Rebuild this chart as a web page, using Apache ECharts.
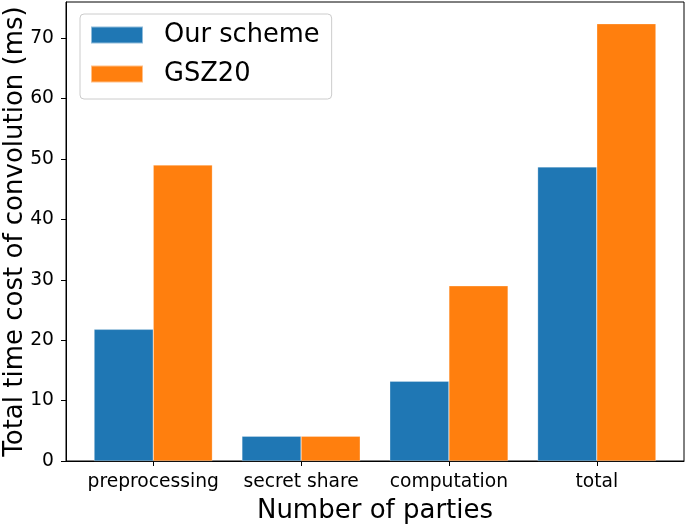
<!DOCTYPE html>
<html>
<head>
<meta charset="utf-8">
<script src="https://cdn.jsdelivr.net/npm/echarts@6/dist/echarts.min.js"></script>
<style>html,body{margin:0;padding:0;background:#fff}#c{width:685px;height:524px}</style>
</head>
<body>
<div id="c"></div>
<script>
const categories = ['preprocessing', 'secret share', 'computation', 'total'];
const ourScheme = [21.8, 4.1, 13.2, 48.7];
const gsz20 = [49.0, 4.1, 29.0, 72.4];
const yTicks = [0, 10, 20, 30, 40, 50, 60, 70];
const xPositions = [0, 1, 2, 3];

const font = 'DejaVu Sans';
const chart = echarts.init(document.getElementById('c'), null, {renderer: 'canvas'});
chart.setOption({
  animation: false,
  backgroundColor: '#fff',
  grid: {left: 66, right: 1, top: 2, bottom: 63, outerBoundsMode: 'none', containLabel: false,
    show: true, borderColor: '#000', borderWidth: 1, backgroundColor: 'transparent'},
  legend: {
    left: 80, top: 14, orient: 'vertical',
    itemWidth: 52, itemHeight: 17, itemGap: 13,
    padding: [8, 12, 12, 10],
    borderColor: '#cccccc', borderWidth: 1, borderRadius: 4,
    backgroundColor: 'rgba(255,255,255,0.8)',
    icon: 'rect',
    textStyle: {fontFamily: font, fontSize: 25.7, color: '#000', padding: [0, 0, 0, 16]},
    data: ['Our scheme', 'GSZ20']
  },
  xAxis: {
    type: 'value', min: -0.59, max: 3.59,
    name: 'Number of parties', nameLocation: 'middle', nameGap: 37, nameMoveOverlap: false,
    nameTextStyle: {fontFamily: font, fontSize: 26, color: '#000'},
    splitLine: {show: false},
    axisLine: {show: true, onZero: false, lineStyle: {color: '#000', width: 1}},
    axisTick: {show: true, length: 5, lineStyle: {color: '#000'}, customValues: xPositions},
    axisLabel: {fontFamily: font, fontSize: 18.7, color: '#000', margin: 12, customValues: xPositions,
      formatter: v => categories[Math.round(v)]}
  },
  yAxis: {
    type: 'value', min: 0, max: 76.0,
    name: 'Total time cost of convolution (ms)', nameLocation: 'middle', nameGap: 38, nameMoveOverlap: false,
    nameTextStyle: {fontFamily: font, fontSize: 26, color: '#000'},
    splitLine: {show: false},
    axisLine: {show: true, onZero: false, lineStyle: {color: '#000', width: 1}},
    axisTick: {show: true, length: 5, lineStyle: {color: '#000'}, customValues: yTicks},
    axisLabel: {fontFamily: font, fontSize: 18.7, color: '#000', margin: 12, customValues: yTicks}
  },
  series: [
    {name: 'Our scheme', type: 'bar', barWidth: '40%', barGap: '0%',
     itemStyle: {color: '#1f77b4', borderColor: 'rgba(255,255,255,0.5)', borderWidth: 0.5},
     data: ourScheme.map((v, i) => [xPositions[i], v])},
    {name: 'GSZ20', type: 'bar', barWidth: '40%', barGap: '0%',
     itemStyle: {color: '#ff7f0e', borderColor: 'rgba(255,255,255,0.5)', borderWidth: 0.5},
     data: gsz20.map((v, i) => [xPositions[i], v])}
  ]
});
</script>
</body>
</html>
